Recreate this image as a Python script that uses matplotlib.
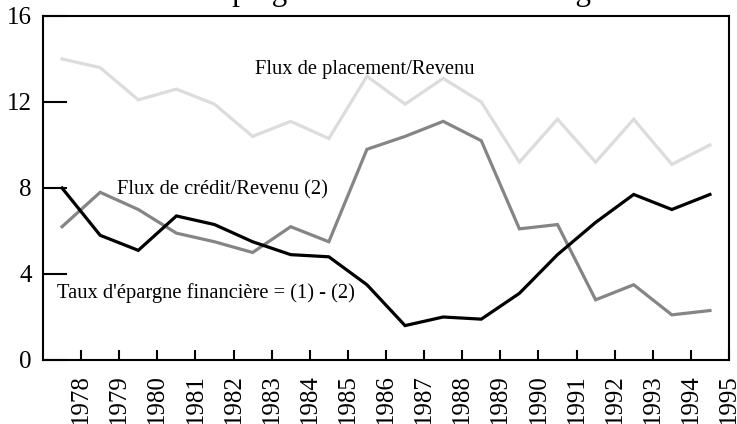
import matplotlib.pyplot as plt

plt.rcParams['font.family'] = ['Liberation Serif', 'DejaVu Serif']

YEARS = [str(y) for y in range(1978, 1996)]
PLACEMENT = [14.0, 13.6, 12.1, 12.6, 11.9, 10.4, 11.1, 10.3, 13.2,
             11.9, 13.1, 12.0, 9.2, 11.2, 9.2, 11.2, 9.1, 10.0]
CREDIT = [6.2, 7.8, 7.0, 5.9, 5.5, 5.0, 6.2, 5.5, 9.8,
          10.4, 11.1, 10.2, 6.1, 6.3, 2.8, 3.5, 2.1, 2.3]
EPARGNE = [8.0, 5.8, 5.1, 6.7, 6.3, 5.5, 4.9, 4.8, 3.5,
           1.6, 2.0, 1.9, 3.1, 4.9, 6.4, 7.7, 7.0, 7.7]

fig = plt.figure(figsize=(7.37, 4.24), dpi=100)
ax = fig.add_axes([43 / 737, 1 - 360 / 424, (729 - 43) / 737, (360 - 16) / 424])

x = [i + 0.5 for i in range(len(YEARS))]
ax.plot(x, PLACEMENT, color='#dcdcdc', lw=2.3, solid_joinstyle='miter')
ax.plot(x, CREDIT, color='#858585', lw=2.3, solid_joinstyle='miter')
ax.plot(x, EPARGNE, color='black', lw=2.3, solid_joinstyle='miter')

ax.set_xlim(0, 18)
ax.set_ylim(0, 16)
ax.set_xticks(range(1, 19))
ax.set_xticklabels(YEARS, rotation=90, fontsize=18)
ax.set_yticks([0, 4, 8, 12, 16])
ax.set_yticklabels(['0', '4', '8', '12', '16'], fontsize=18)
ax.tick_params(axis='x', direction='in', length=7, width=1.5, pad=10)
ax.tick_params(axis='y', direction='in', length=17, width=1.5, pad=8)
for s in ax.spines.values():
    s.set_linewidth(1.5)

ax.text(5.55, 13.5, 'Flux de placement/Revenu', fontsize=14.8, va='center')
ax.text(1.95, 7.9, 'Flux de crédit/Revenu (2)', fontsize=14.8, va='center')
ax.text(0.38, 3.1, "Taux d'épargne financière = (1) - (2)", fontsize=14.8, va='center')

fig.text(0.505, 1.0, "Taux d'épargne financière des ménages", fontsize=22.5,
         ha='center', va='baseline')

fig.savefig('out.png', dpi=100)
